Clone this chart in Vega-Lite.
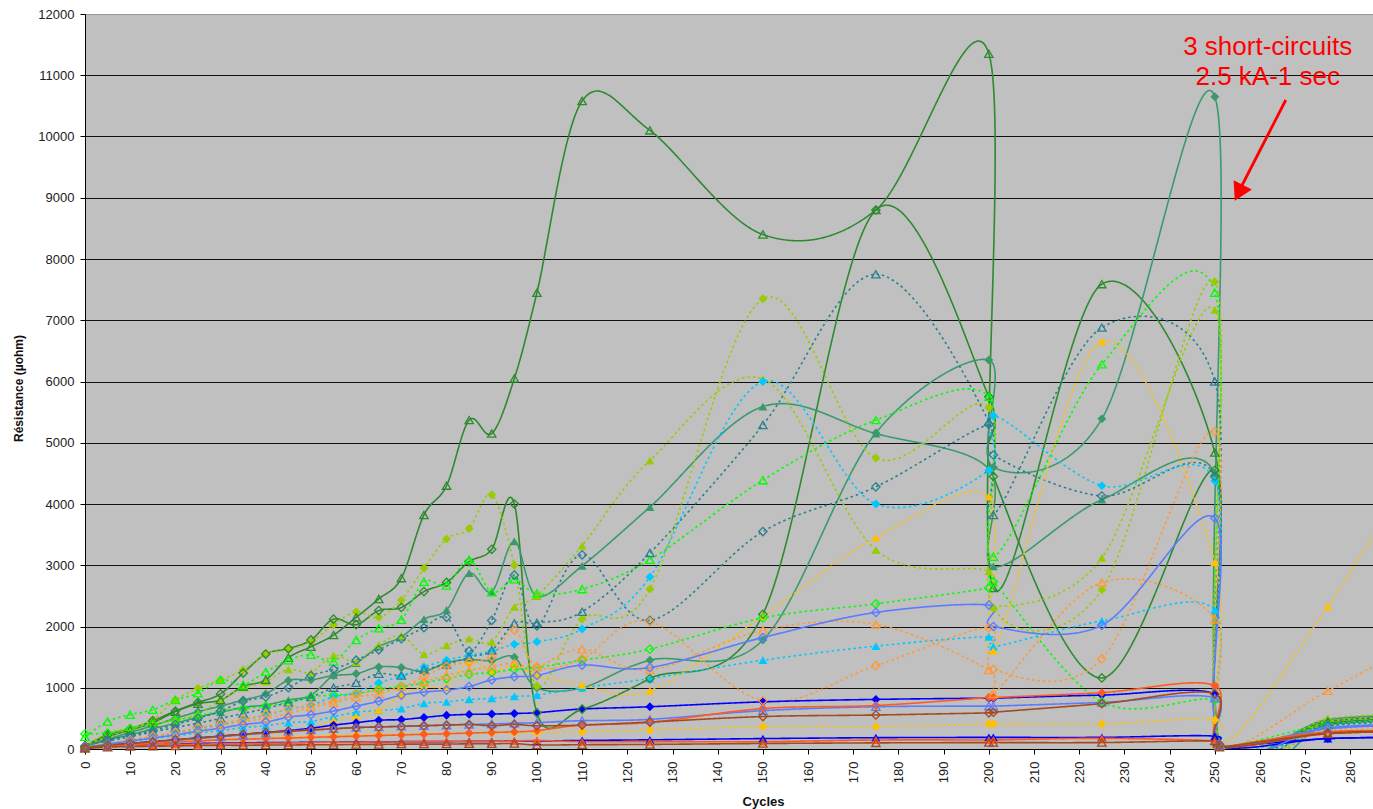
{
  "$schema": "https://vega.github.io/schema/vega-lite/v6.json",
  "width": 1288,
  "height": 735,
  "autosize": {"type": "none"},
  "padding": {"left": 85, "top": 14, "right": 0, "bottom": 60},
  "background": "white",
  "config": {
    "font": "Liberation Sans",
    "view": {"fill": "#C0C0C0", "stroke": "#9a9a9a", "strokeWidth": 1}
  },
  "datasets": {
    "series": [
      {"s":"A","c":0,"r":50},{"s":"A","c":5,"r":200},{"s":"A","c":10,"r":310},{"s":"A","c":15,"r":430},{"s":"A","c":20,"r":610},{"s":"A","c":25,"r":740},{"s":"A","c":30,"r":800},{"s":"A","c":35,"r":1020},{"s":"A","c":40,"r":1130},{"s":"A","c":45,"r":1490},{"s":"A","c":50,"r":1670},{"s":"A","c":55,"r":1860},{"s":"A","c":60,"r":2150},{"s":"A","c":65,"r":2450},{"s":"A","c":70,"r":2790},{"s":"A","c":75,"r":3820},{"s":"A","c":80,"r":4300},{"s":"A","c":85,"r":5370},{"s":"A","c":90,"r":5150},{"s":"A","c":95,"r":6050},{"s":"A","c":100,"r":7450},{"s":"A","c":110,"r":10580},{"s":"A","c":125,"r":10100},{"s":"A","c":150,"r":8400},{"s":"A","c":175,"r":8800},{"s":"A","c":200,"r":11350},{"s":"A","c":201,"r":2630},{"s":"A","c":225,"r":7590},{"s":"A","c":250,"r":4840},{"s":"A","c":251,"r":100},{"s":"A","c":275,"r":450},{"s":"A","c":300,"r":550},
      {"s":"B","c":0,"r":50},{"s":"B","c":5,"r":230},{"s":"B","c":10,"r":330},{"s":"B","c":15,"r":460},{"s":"B","c":20,"r":620},{"s":"B","c":25,"r":760},{"s":"B","c":30,"r":900},{"s":"B","c":35,"r":1240},{"s":"B","c":40,"r":1550},{"s":"B","c":45,"r":1640},{"s":"B","c":50,"r":1780},{"s":"B","c":55,"r":2120},{"s":"B","c":60,"r":2030},{"s":"B","c":65,"r":2260},{"s":"B","c":70,"r":2310},{"s":"B","c":75,"r":2570},{"s":"B","c":80,"r":2720},{"s":"B","c":85,"r":3060},{"s":"B","c":90,"r":3260},{"s":"B","c":95,"r":4000},{"s":"B","c":100,"r":590},{"s":"B","c":110,"r":650},{"s":"B","c":125,"r":1150},{"s":"B","c":150,"r":2200},{"s":"B","c":175,"r":8800},{"s":"B","c":200,"r":5750},{"s":"B","c":201,"r":4450},{"s":"B","c":225,"r":1160},{"s":"B","c":250,"r":4550},{"s":"B","c":251,"r":80},{"s":"B","c":275,"r":420},{"s":"B","c":300,"r":520},
      {"s":"C","c":0,"r":40},{"s":"C","c":5,"r":150},{"s":"C","c":10,"r":230},{"s":"C","c":15,"r":330},{"s":"C","c":20,"r":420},{"s":"C","c":25,"r":520},{"s":"C","c":30,"r":600},{"s":"C","c":35,"r":680},{"s":"C","c":40,"r":720},{"s":"C","c":45,"r":800},{"s":"C","c":50,"r":880},{"s":"C","c":55,"r":1210},{"s":"C","c":60,"r":1400},{"s":"C","c":65,"r":1670},{"s":"C","c":70,"r":1830},{"s":"C","c":75,"r":2120},{"s":"C","c":80,"r":2270},{"s":"C","c":85,"r":2870},{"s":"C","c":90,"r":2570},{"s":"C","c":95,"r":3390},{"s":"C","c":100,"r":2500},{"s":"C","c":110,"r":2990},{"s":"C","c":125,"r":3950},{"s":"C","c":150,"r":5590},{"s":"C","c":175,"r":5150},{"s":"C","c":200,"r":4570},{"s":"C","c":201,"r":2980},{"s":"C","c":225,"r":4070},{"s":"C","c":250,"r":4500},{"s":"C","c":251,"r":70},{"s":"C","c":275,"r":480},{"s":"C","c":300,"r":560},
      {"s":"D","c":0,"r":40},{"s":"D","c":5,"r":160},{"s":"D","c":10,"r":270},{"s":"D","c":15,"r":380},{"s":"D","c":20,"r":500},{"s":"D","c":25,"r":610},{"s":"D","c":30,"r":700},{"s":"D","c":35,"r":800},{"s":"D","c":40,"r":900},{"s":"D","c":45,"r":1120},{"s":"D","c":50,"r":1130},{"s":"D","c":55,"r":1200},{"s":"D","c":60,"r":1230},{"s":"D","c":65,"r":1340},{"s":"D","c":70,"r":1330},{"s":"D","c":75,"r":1270},{"s":"D","c":80,"r":1410},{"s":"D","c":85,"r":1460},{"s":"D","c":90,"r":1440},{"s":"D","c":95,"r":1500},{"s":"D","c":100,"r":1000},{"s":"D","c":110,"r":1000},{"s":"D","c":125,"r":1450},{"s":"D","c":150,"r":1780},{"s":"D","c":175,"r":5160},{"s":"D","c":200,"r":6350},{"s":"D","c":201,"r":4600},{"s":"D","c":225,"r":5390},{"s":"D","c":250,"r":10650},{"s":"D","c":251,"r":80},{"s":"D","c":275,"r":400},{"s":"D","c":300,"r":500},
      {"s":"E","c":0,"r":200},{"s":"E","c":5,"r":450},{"s":"E","c":10,"r":560},{"s":"E","c":15,"r":640},{"s":"E","c":20,"r":800},{"s":"E","c":25,"r":910},{"s":"E","c":30,"r":1130},{"s":"E","c":35,"r":1050},{"s":"E","c":40,"r":1260},{"s":"E","c":45,"r":1450},{"s":"E","c":50,"r":1540},{"s":"E","c":55,"r":1430},{"s":"E","c":60,"r":1780},{"s":"E","c":65,"r":1970},{"s":"E","c":70,"r":2110},{"s":"E","c":75,"r":2730},{"s":"E","c":80,"r":2670},{"s":"E","c":85,"r":3090},{"s":"E","c":90,"r":2560},{"s":"E","c":95,"r":2770},{"s":"E","c":100,"r":2540},{"s":"E","c":110,"r":2610},{"s":"E","c":125,"r":3090},{"s":"E","c":150,"r":4390},{"s":"E","c":175,"r":5370},{"s":"E","c":200,"r":5750},{"s":"E","c":201,"r":3140},{"s":"E","c":225,"r":6280},{"s":"E","c":250,"r":7450},{"s":"E","c":251,"r":50},{"s":"E","c":275,"r":380},{"s":"E","c":300,"r":480},
      {"s":"F","c":0,"r":245},{"s":"F","c":5,"r":260},{"s":"F","c":10,"r":330},{"s":"F","c":15,"r":400},{"s":"F","c":20,"r":470},{"s":"F","c":25,"r":540},{"s":"F","c":30,"r":620},{"s":"F","c":35,"r":660},{"s":"F","c":40,"r":700},{"s":"F","c":45,"r":760},{"s":"F","c":50,"r":850},{"s":"F","c":55,"r":880},{"s":"F","c":60,"r":900},{"s":"F","c":65,"r":980},{"s":"F","c":70,"r":1020},{"s":"F","c":75,"r":1080},{"s":"F","c":80,"r":1150},{"s":"F","c":85,"r":1220},{"s":"F","c":90,"r":1250},{"s":"F","c":95,"r":1300},{"s":"F","c":100,"r":1330},{"s":"F","c":110,"r":1450},{"s":"F","c":125,"r":1630},{"s":"F","c":150,"r":2140},{"s":"F","c":175,"r":2370},{"s":"F","c":200,"r":2630},{"s":"F","c":201,"r":2730},{"s":"F","c":225,"r":770},{"s":"F","c":250,"r":800},{"s":"F","c":251,"r":60},{"s":"F","c":275,"r":400},{"s":"F","c":300,"r":500},
      {"s":"G","c":0,"r":50},{"s":"G","c":5,"r":200},{"s":"G","c":10,"r":330},{"s":"G","c":15,"r":480},{"s":"G","c":20,"r":800},{"s":"G","c":25,"r":990},{"s":"G","c":30,"r":1130},{"s":"G","c":35,"r":1290},{"s":"G","c":40,"r":1550},{"s":"G","c":45,"r":1620},{"s":"G","c":50,"r":1750},{"s":"G","c":55,"r":2030},{"s":"G","c":60,"r":2240},{"s":"G","c":65,"r":2150},{"s":"G","c":70,"r":2430},{"s":"G","c":75,"r":2950},{"s":"G","c":80,"r":3430},{"s":"G","c":85,"r":3600},{"s":"G","c":90,"r":4150},{"s":"G","c":95,"r":3000},{"s":"G","c":100,"r":1030},{"s":"G","c":110,"r":2120},{"s":"G","c":125,"r":2610},{"s":"G","c":150,"r":7350},{"s":"G","c":175,"r":4750},{"s":"G","c":200,"r":5570},{"s":"G","c":201,"r":2300},{"s":"G","c":225,"r":2600},{"s":"G","c":250,"r":7630},{"s":"G","c":251,"r":60},{"s":"G","c":275,"r":450},{"s":"G","c":300,"r":520},
      {"s":"H","c":0,"r":40},{"s":"H","c":5,"r":260},{"s":"H","c":10,"r":340},{"s":"H","c":15,"r":420},{"s":"H","c":20,"r":470},{"s":"H","c":25,"r":580},{"s":"H","c":30,"r":800},{"s":"H","c":35,"r":1000},{"s":"H","c":40,"r":1100},{"s":"H","c":45,"r":1300},{"s":"H","c":50,"r":1250},{"s":"H","c":55,"r":1530},{"s":"H","c":60,"r":1420},{"s":"H","c":65,"r":1700},{"s":"H","c":70,"r":1850},{"s":"H","c":75,"r":1550},{"s":"H","c":80,"r":1690},{"s":"H","c":85,"r":1800},{"s":"H","c":90,"r":1750},{"s":"H","c":95,"r":2320},{"s":"H","c":100,"r":2500},{"s":"H","c":110,"r":3320},{"s":"H","c":125,"r":4710},{"s":"H","c":150,"r":6040},{"s":"H","c":175,"r":3250},{"s":"H","c":200,"r":2900},{"s":"H","c":201,"r":2320},{"s":"H","c":225,"r":3120},{"s":"H","c":250,"r":7170},{"s":"H","c":251,"r":60},{"s":"H","c":275,"r":500},{"s":"H","c":300,"r":560},
      {"s":"I","c":0,"r":50},{"s":"I","c":5,"r":150},{"s":"I","c":10,"r":220},{"s":"I","c":15,"r":300},{"s":"I","c":20,"r":400},{"s":"I","c":25,"r":500},{"s":"I","c":30,"r":620},{"s":"I","c":35,"r":780},{"s":"I","c":40,"r":850},{"s":"I","c":45,"r":1000},{"s":"I","c":50,"r":1200},{"s":"I","c":55,"r":1300},{"s":"I","c":60,"r":1450},{"s":"I","c":65,"r":1620},{"s":"I","c":70,"r":1800},{"s":"I","c":75,"r":1980},{"s":"I","c":80,"r":2150},{"s":"I","c":85,"r":1600},{"s":"I","c":90,"r":2100},{"s":"I","c":95,"r":2840},{"s":"I","c":100,"r":2010},{"s":"I","c":110,"r":3170},{"s":"I","c":125,"r":2100},{"s":"I","c":150,"r":3550},{"s":"I","c":175,"r":4280},{"s":"I","c":200,"r":5300},{"s":"I","c":201,"r":4800},{"s":"I","c":225,"r":4130},{"s":"I","c":250,"r":4450},{"s":"I","c":251,"r":60},{"s":"I","c":275,"r":380},{"s":"I","c":300,"r":460},
      {"s":"J","c":0,"r":50},{"s":"J","c":5,"r":130},{"s":"J","c":10,"r":200},{"s":"J","c":15,"r":280},{"s":"J","c":20,"r":350},{"s":"J","c":25,"r":420},{"s":"J","c":30,"r":500},{"s":"J","c":35,"r":580},{"s":"J","c":40,"r":660},{"s":"J","c":45,"r":760},{"s":"J","c":50,"r":850},{"s":"J","c":55,"r":1000},{"s":"J","c":60,"r":1080},{"s":"J","c":65,"r":1230},{"s":"J","c":70,"r":1200},{"s":"J","c":75,"r":1300},{"s":"J","c":80,"r":1380},{"s":"J","c":85,"r":1500},{"s":"J","c":90,"r":1610},{"s":"J","c":95,"r":2050},{"s":"J","c":100,"r":2060},{"s":"J","c":110,"r":2240},{"s":"J","c":125,"r":3200},{"s":"J","c":150,"r":5290},{"s":"J","c":175,"r":7750},{"s":"J","c":200,"r":5340},{"s":"J","c":201,"r":3820},{"s":"J","c":225,"r":6880},{"s":"J","c":250,"r":6000},{"s":"J","c":251,"r":60},{"s":"J","c":275,"r":400},{"s":"J","c":300,"r":470},
      {"s":"K","c":0,"r":30},{"s":"K","c":5,"r":90},{"s":"K","c":10,"r":140},{"s":"K","c":15,"r":200},{"s":"K","c":20,"r":260},{"s":"K","c":25,"r":330},{"s":"K","c":30,"r":400},{"s":"K","c":35,"r":480},{"s":"K","c":40,"r":550},{"s":"K","c":45,"r":650},{"s":"K","c":50,"r":720},{"s":"K","c":55,"r":850},{"s":"K","c":60,"r":920},{"s":"K","c":65,"r":1080},{"s":"K","c":70,"r":1190},{"s":"K","c":75,"r":1340},{"s":"K","c":80,"r":1450},{"s":"K","c":85,"r":1530},{"s":"K","c":90,"r":1600},{"s":"K","c":95,"r":1710},{"s":"K","c":100,"r":1750},{"s":"K","c":110,"r":1960},{"s":"K","c":125,"r":2810},{"s":"K","c":150,"r":6000},{"s":"K","c":175,"r":4000},{"s":"K","c":200,"r":4550},{"s":"K","c":201,"r":5440},{"s":"K","c":225,"r":4300},{"s":"K","c":250,"r":4380},{"s":"K","c":251,"r":50},{"s":"K","c":275,"r":330},{"s":"K","c":300,"r":420},
      {"s":"L","c":0,"r":30},{"s":"L","c":5,"r":80},{"s":"L","c":10,"r":120},{"s":"L","c":15,"r":170},{"s":"L","c":20,"r":210},{"s":"L","c":25,"r":260},{"s":"L","c":30,"r":300},{"s":"L","c":35,"r":350},{"s":"L","c":40,"r":380},{"s":"L","c":45,"r":430},{"s":"L","c":50,"r":450},{"s":"L","c":55,"r":530},{"s":"L","c":60,"r":600},{"s":"L","c":65,"r":630},{"s":"L","c":70,"r":660},{"s":"L","c":75,"r":745},{"s":"L","c":80,"r":770},{"s":"L","c":85,"r":810},{"s":"L","c":90,"r":825},{"s":"L","c":95,"r":860},{"s":"L","c":100,"r":880},{"s":"L","c":110,"r":1000},{"s":"L","c":125,"r":1150},{"s":"L","c":150,"r":1450},{"s":"L","c":175,"r":1680},{"s":"L","c":200,"r":1830},{"s":"L","c":201,"r":1670},{"s":"L","c":225,"r":2090},{"s":"L","c":250,"r":2270},{"s":"L","c":251,"r":50},{"s":"L","c":275,"r":350},{"s":"L","c":300,"r":420},
      {"s":"M","c":0,"r":30},{"s":"M","c":5,"r":80},{"s":"M","c":10,"r":150},{"s":"M","c":15,"r":210},{"s":"M","c":20,"r":270},{"s":"M","c":25,"r":350},{"s":"M","c":30,"r":420},{"s":"M","c":35,"r":480},{"s":"M","c":40,"r":560},{"s":"M","c":45,"r":650},{"s":"M","c":50,"r":720},{"s":"M","c":55,"r":780},{"s":"M","c":60,"r":900},{"s":"M","c":65,"r":950},{"s":"M","c":70,"r":1000},{"s":"M","c":75,"r":1180},{"s":"M","c":80,"r":1350},{"s":"M","c":85,"r":1420},{"s":"M","c":90,"r":1500},{"s":"M","c":95,"r":1940},{"s":"M","c":100,"r":1340},{"s":"M","c":110,"r":1470},{"s":"M","c":125,"r":2080},{"s":"M","c":150,"r":790},{"s":"M","c":175,"r":1360},{"s":"M","c":200,"r":1980},{"s":"M","c":201,"r":1300},{"s":"M","c":225,"r":1470},{"s":"M","c":250,"r":5180},{"s":"M","c":251,"r":50},{"s":"M","c":275,"r":300},{"s":"M","c":300,"r":380},
      {"s":"N","c":0,"r":30},{"s":"N","c":5,"r":70},{"s":"N","c":10,"r":130},{"s":"N","c":15,"r":190},{"s":"N","c":20,"r":240},{"s":"N","c":25,"r":310},{"s":"N","c":30,"r":380},{"s":"N","c":35,"r":440},{"s":"N","c":40,"r":500},{"s":"N","c":45,"r":580},{"s":"N","c":50,"r":680},{"s":"N","c":55,"r":750},{"s":"N","c":60,"r":850},{"s":"N","c":65,"r":900},{"s":"N","c":70,"r":1020},{"s":"N","c":75,"r":1100},{"s":"N","c":80,"r":1200},{"s":"N","c":85,"r":1280},{"s":"N","c":90,"r":1350},{"s":"N","c":95,"r":1400},{"s":"N","c":100,"r":1340},{"s":"N","c":110,"r":1630},{"s":"N","c":125,"r":1290},{"s":"N","c":150,"r":1940},{"s":"N","c":175,"r":2035},{"s":"N","c":200,"r":1290},{"s":"N","c":201,"r":900},{"s":"N","c":225,"r":2720},{"s":"N","c":250,"r":2120},{"s":"N","c":251,"r":50},{"s":"N","c":275,"r":950},{"s":"N","c":300,"r":1950},
      {"s":"O","c":0,"r":30},{"s":"O","c":5,"r":60},{"s":"O","c":10,"r":80},{"s":"O","c":15,"r":100},{"s":"O","c":20,"r":120},{"s":"O","c":25,"r":140},{"s":"O","c":30,"r":160},{"s":"O","c":35,"r":170},{"s":"O","c":40,"r":180},{"s":"O","c":45,"r":200},{"s":"O","c":50,"r":210},{"s":"O","c":55,"r":220},{"s":"O","c":60,"r":230},{"s":"O","c":65,"r":240},{"s":"O","c":70,"r":240},{"s":"O","c":75,"r":250},{"s":"O","c":80,"r":250},{"s":"O","c":85,"r":260},{"s":"O","c":90,"r":260},{"s":"O","c":95,"r":265},{"s":"O","c":100,"r":267},{"s":"O","c":110,"r":283},{"s":"O","c":125,"r":310},{"s":"O","c":150,"r":365},{"s":"O","c":175,"r":365},{"s":"O","c":200,"r":408},{"s":"O","c":201,"r":408},{"s":"O","c":225,"r":408},{"s":"O","c":250,"r":473},{"s":"O","c":251,"r":50},{"s":"O","c":275,"r":250},{"s":"O","c":300,"r":320},
      {"s":"P","c":0,"r":40},{"s":"P","c":5,"r":90},{"s":"P","c":10,"r":90},{"s":"P","c":15,"r":120},{"s":"P","c":20,"r":160},{"s":"P","c":25,"r":175},{"s":"P","c":30,"r":200},{"s":"P","c":35,"r":220},{"s":"P","c":40,"r":240},{"s":"P","c":45,"r":270},{"s":"P","c":50,"r":340},{"s":"P","c":55,"r":470},{"s":"P","c":60,"r":530},{"s":"P","c":65,"r":640},{"s":"P","c":70,"r":880},{"s":"P","c":75,"r":1020},{"s":"P","c":80,"r":1020},{"s":"P","c":85,"r":1430},{"s":"P","c":90,"r":1260},{"s":"P","c":95,"r":1370},{"s":"P","c":100,"r":1210},{"s":"P","c":110,"r":1045},{"s":"P","c":125,"r":950},{"s":"P","c":150,"r":2170},{"s":"P","c":175,"r":3450},{"s":"P","c":200,"r":4120},{"s":"P","c":201,"r":1600},{"s":"P","c":225,"r":6650},{"s":"P","c":250,"r":3050},{"s":"P","c":251,"r":110},{"s":"P","c":275,"r":2330},{"s":"P","c":300,"r":5300},
      {"s":"Q","c":0,"r":30},{"s":"Q","c":5,"r":60},{"s":"Q","c":10,"r":90},{"s":"Q","c":15,"r":120},{"s":"Q","c":20,"r":150},{"s":"Q","c":25,"r":180},{"s":"Q","c":30,"r":210},{"s":"Q","c":35,"r":240},{"s":"Q","c":40,"r":270},{"s":"Q","c":45,"r":300},{"s":"Q","c":50,"r":340},{"s":"Q","c":55,"r":390},{"s":"Q","c":60,"r":430},{"s":"Q","c":65,"r":470},{"s":"Q","c":70,"r":480},{"s":"Q","c":75,"r":515},{"s":"Q","c":80,"r":550},{"s":"Q","c":85,"r":565},{"s":"Q","c":90,"r":570},{"s":"Q","c":95,"r":580},{"s":"Q","c":100,"r":593},{"s":"Q","c":110,"r":653},{"s":"Q","c":125,"r":690},{"s":"Q","c":150,"r":770},{"s":"Q","c":175,"r":810},{"s":"Q","c":200,"r":830},{"s":"Q","c":201,"r":830},{"s":"Q","c":225,"r":880},{"s":"Q","c":250,"r":900},{"s":"Q","c":251,"r":50},{"s":"Q","c":275,"r":170},{"s":"Q","c":300,"r":200},
      {"s":"R","c":0,"r":20},{"s":"R","c":5,"r":40},{"s":"R","c":10,"r":60},{"s":"R","c":15,"r":70},{"s":"R","c":20,"r":80},{"s":"R","c":25,"r":90},{"s":"R","c":30,"r":95},{"s":"R","c":35,"r":100},{"s":"R","c":40,"r":105},{"s":"R","c":45,"r":105},{"s":"R","c":50,"r":110},{"s":"R","c":55,"r":110},{"s":"R","c":60,"r":115},{"s":"R","c":65,"r":115},{"s":"R","c":70,"r":120},{"s":"R","c":75,"r":120},{"s":"R","c":80,"r":120},{"s":"R","c":85,"r":125},{"s":"R","c":90,"r":125},{"s":"R","c":95,"r":130},{"s":"R","c":100,"r":130},{"s":"R","c":110,"r":140},{"s":"R","c":125,"r":150},{"s":"R","c":150,"r":170},{"s":"R","c":175,"r":185},{"s":"R","c":200,"r":190},{"s":"R","c":201,"r":190},{"s":"R","c":225,"r":190},{"s":"R","c":250,"r":210},{"s":"R","c":251,"r":40},{"s":"R","c":275,"r":170},{"s":"R","c":300,"r":190},
      {"s":"S","c":0,"r":30},{"s":"S","c":5,"r":80},{"s":"S","c":10,"r":130},{"s":"S","c":15,"r":180},{"s":"S","c":20,"r":230},{"s":"S","c":25,"r":290},{"s":"S","c":30,"r":340},{"s":"S","c":35,"r":400},{"s":"S","c":40,"r":440},{"s":"S","c":45,"r":520},{"s":"S","c":50,"r":560},{"s":"S","c":55,"r":620},{"s":"S","c":60,"r":700},{"s":"S","c":65,"r":780},{"s":"S","c":70,"r":880},{"s":"S","c":75,"r":930},{"s":"S","c":80,"r":960},{"s":"S","c":85,"r":1020},{"s":"S","c":90,"r":1130},{"s":"S","c":95,"r":1180},{"s":"S","c":100,"r":1200},{"s":"S","c":110,"r":1370},{"s":"S","c":125,"r":1330},{"s":"S","c":150,"r":1820},{"s":"S","c":175,"r":2230},{"s":"S","c":200,"r":2350},{"s":"S","c":201,"r":2000},{"s":"S","c":225,"r":2020},{"s":"S","c":250,"r":3770},{"s":"S","c":251,"r":80},{"s":"S","c":275,"r":350},{"s":"S","c":300,"r":420},
      {"s":"T","c":0,"r":20},{"s":"T","c":5,"r":50},{"s":"T","c":10,"r":80},{"s":"T","c":15,"r":110},{"s":"T","c":20,"r":140},{"s":"T","c":25,"r":170},{"s":"T","c":30,"r":200},{"s":"T","c":35,"r":230},{"s":"T","c":40,"r":260},{"s":"T","c":45,"r":290},{"s":"T","c":50,"r":310},{"s":"T","c":55,"r":330},{"s":"T","c":60,"r":350},{"s":"T","c":65,"r":360},{"s":"T","c":70,"r":370},{"s":"T","c":75,"r":380},{"s":"T","c":80,"r":390},{"s":"T","c":85,"r":400},{"s":"T","c":90,"r":410},{"s":"T","c":95,"r":420},{"s":"T","c":100,"r":430},{"s":"T","c":110,"r":463},{"s":"T","c":125,"r":484},{"s":"T","c":150,"r":626},{"s":"T","c":175,"r":690},{"s":"T","c":200,"r":700},{"s":"T","c":201,"r":700},{"s":"T","c":225,"r":760},{"s":"T","c":250,"r":830},{"s":"T","c":251,"r":50},{"s":"T","c":275,"r":330},{"s":"T","c":300,"r":400},
      {"s":"U","c":0,"r":20},{"s":"U","c":5,"r":50},{"s":"U","c":10,"r":70},{"s":"U","c":15,"r":90},{"s":"U","c":20,"r":110},{"s":"U","c":25,"r":130},{"s":"U","c":30,"r":150},{"s":"U","c":35,"r":160},{"s":"U","c":40,"r":170},{"s":"U","c":45,"r":180},{"s":"U","c":50,"r":190},{"s":"U","c":55,"r":200},{"s":"U","c":60,"r":210},{"s":"U","c":65,"r":220},{"s":"U","c":70,"r":230},{"s":"U","c":75,"r":240},{"s":"U","c":80,"r":250},{"s":"U","c":85,"r":260},{"s":"U","c":90,"r":270},{"s":"U","c":95,"r":280},{"s":"U","c":100,"r":300},{"s":"U","c":110,"r":390},{"s":"U","c":125,"r":435},{"s":"U","c":150,"r":660},{"s":"U","c":175,"r":710},{"s":"U","c":200,"r":840},{"s":"U","c":201,"r":840},{"s":"U","c":225,"r":920},{"s":"U","c":250,"r":1035},{"s":"U","c":251,"r":80},{"s":"U","c":275,"r":250},{"s":"U","c":300,"r":300},
      {"s":"V","c":0,"r":20},{"s":"V","c":5,"r":40},{"s":"V","c":10,"r":55},{"s":"V","c":15,"r":65},{"s":"V","c":20,"r":75},{"s":"V","c":25,"r":80},{"s":"V","c":30,"r":85},{"s":"V","c":35,"r":90},{"s":"V","c":40,"r":95},{"s":"V","c":45,"r":100},{"s":"V","c":50,"r":105},{"s":"V","c":55,"r":110},{"s":"V","c":60,"r":110},{"s":"V","c":65,"r":115},{"s":"V","c":70,"r":115},{"s":"V","c":75,"r":120},{"s":"V","c":80,"r":120},{"s":"V","c":85,"r":125},{"s":"V","c":90,"r":125},{"s":"V","c":95,"r":130},{"s":"V","c":100,"r":140},{"s":"V","c":110,"r":120},{"s":"V","c":125,"r":120},{"s":"V","c":150,"r":120},{"s":"V","c":175,"r":147},{"s":"V","c":200,"r":147},{"s":"V","c":201,"r":147},{"s":"V","c":225,"r":174},{"s":"V","c":250,"r":130},{"s":"V","c":251,"r":30},{"s":"V","c":275,"r":280},{"s":"V","c":300,"r":290},
      {"s":"W","c":0,"r":20},{"s":"W","c":5,"r":60},{"s":"W","c":10,"r":90},{"s":"W","c":15,"r":120},{"s":"W","c":20,"r":150},{"s":"W","c":25,"r":180},{"s":"W","c":30,"r":210},{"s":"W","c":35,"r":240},{"s":"W","c":40,"r":270},{"s":"W","c":45,"r":290},{"s":"W","c":50,"r":310},{"s":"W","c":55,"r":330},{"s":"W","c":60,"r":350},{"s":"W","c":65,"r":360},{"s":"W","c":70,"r":370},{"s":"W","c":75,"r":380},{"s":"W","c":80,"r":390},{"s":"W","c":85,"r":400},{"s":"W","c":90,"r":380},{"s":"W","c":95,"r":400},{"s":"W","c":100,"r":380},{"s":"W","c":110,"r":390},{"s":"W","c":125,"r":440},{"s":"W","c":150,"r":530},{"s":"W","c":175,"r":555},{"s":"W","c":200,"r":590},{"s":"W","c":201,"r":600},{"s":"W","c":225,"r":740},{"s":"W","c":250,"r":900},{"s":"W","c":251,"r":60},{"s":"W","c":275,"r":260},{"s":"W","c":300,"r":300},
      {"s":"X","c":0,"r":10},{"s":"X","c":5,"r":30},{"s":"X","c":10,"r":40},{"s":"X","c":15,"r":45},{"s":"X","c":20,"r":50},{"s":"X","c":25,"r":55},{"s":"X","c":30,"r":60},{"s":"X","c":35,"r":60},{"s":"X","c":40,"r":65},{"s":"X","c":45,"r":65},{"s":"X","c":50,"r":70},{"s":"X","c":55,"r":70},{"s":"X","c":60,"r":75},{"s":"X","c":65,"r":75},{"s":"X","c":70,"r":80},{"s":"X","c":75,"r":80},{"s":"X","c":80,"r":80},{"s":"X","c":85,"r":85},{"s":"X","c":90,"r":85},{"s":"X","c":95,"r":90},{"s":"X","c":100,"r":65},{"s":"X","c":110,"r":70},{"s":"X","c":125,"r":75},{"s":"X","c":150,"r":90},{"s":"X","c":175,"r":100},{"s":"X","c":200,"r":105},{"s":"X","c":201,"r":105},{"s":"X","c":225,"r":105},{"s":"X","c":250,"r":130},{"s":"X","c":251,"r":30},{"s":"X","c":275,"r":250},{"s":"X","c":300,"r":280}
    ]
  },
  "layer": [
    {
      "data": {"name": "series"},
      "mark": {"type": "line", "interpolate": "cardinal", "clip": true, "strokeWidth": 1.6},
      "encoding": {
        "x": {
          "field": "c", "type": "quantitative", "title": "Cycles",
          "scale": {"domain": [0, 285], "nice": false, "zero": false},
          "axis": {
            "values": [0,10,20,30,40,50,60,70,80,90,100,110,120,130,140,150,160,170,180,190,200,210,220,230,240,250,260,270,280],
            "labelAngle": 270, "labelFontSize": 13, "labelColor": "#222222", "labelPadding": 7,
            "tickSize": 5, "tickColor": "#000000", "domainColor": "#000000", "grid": false,
            "titleFontSize": 13, "titleFontWeight": "bold", "titleColor": "#111111",
            "titleX": 678, "titleY": 56, "titleBaseline": "alphabetic", "titleAnchor": "middle"
          }
        },
        "y": {
          "field": "r", "type": "quantitative", "title": "Résistance (µohm)",
          "scale": {"domain": [0, 12000], "nice": false},
          "axis": {
            "values": [0,1000,2000,3000,4000,5000,6000,7000,8000,9000,10000,11000,12000],
            "format": "d", "labelFontSize": 13, "labelColor": "#222222", "labelPadding": 6,
            "tickSize": 5, "tickColor": "#000000", "domainColor": "#000000",
            "grid": true, "gridWidth": 1.2,
            "gridColor": {"condition": {"test": "datum.value === 12000", "value": "#9a9a9a"}, "value": "#111111"},
            "titleFontSize": 12, "titleFontWeight": "bold", "titleColor": "#111111",
            "titleX": -67, "titleY": 374, "titleAngle": 270, "titleBaseline": "middle", "titleAlign": "center"
          }
        },
        "color": {
          "field": "s", "type": "nominal", "legend": null,
          "scale": {
            "domain": ["A","B","C","D","E","F","G","H","I","J","K","L","M","N","O","P","Q","R","S","T","U","V","W","X"],
            "range": ["#2D8A2D","#2D8A2D","#3A9A6C","#3A9A6C","#00FF00","#00FF00","#99CC00","#99CC00","#2A8090","#2A8090","#00C8FF","#00C8FF","#FF9933","#FF9933","#FFC000","#FFC000","#0000FF","#0000FF","#5B7CFF","#5B7CFF","#FF5A1F","#FF5A1F","#A34A22","#A34A22"]
          }
        },
        "strokeDash": {
          "field": "s", "type": "nominal", "legend": null,
          "scale": {
            "domain": ["A","B","C","D","E","F","G","H","I","J","K","L","M","N","O","P","Q","R","S","T","U","V","W","X"],
            "range": [[1,0],[1,0],[1,0],[1,0],[2.5,3],[2.5,3],[2.5,3],[2.5,3],[2.5,3],[2.5,3],[2.5,3],[2.5,3],[2.5,3],[2.5,3],[2.5,3],[2.5,3],[1,0],[1,0],[1,0],[1,0],[1,0],[1,0],[1,0],[1,0]]
          }
        }
      }
    },
    {
      "data": {"name": "series"},
      "transform": [{"filter": "datum.c <= 285 && indexof(['C','D','G','H','K','L','O','P','Q','R','U','V'], datum.s) >= 0"}],
      "mark": {"type": "point", "filled": true, "size": 80, "opacity": 1},
      "encoding": {
        "x": {"field": "c", "type": "quantitative", "title": "Cycles"},
        "y": {"field": "r", "type": "quantitative", "title": "Résistance (µohm)"},
        "color": {"field": "s", "type": "nominal", "legend": null},
        "shape": {
          "field": "s", "type": "nominal", "legend": null,
          "scale": {
            "domain": ["A","B","C","D","E","F","G","H","I","J","K","L","M","N","O","P","Q","R","S","T","U","V","W","X"],
            "range": ["triangle-up","diamond","triangle-up","diamond","triangle-up","diamond","diamond","triangle-up","diamond","triangle-up","diamond","triangle-up","diamond","triangle-up","diamond","triangle-up","diamond","triangle-up","diamond","triangle-up","diamond","triangle-up","diamond","triangle-up"]
          }
        }
      }
    },
    {
      "data": {"name": "series"},
      "transform": [{"filter": "datum.c <= 285 && indexof(['A','B','E','F','I','J','M','N','S','T','W','X'], datum.s) >= 0"}],
      "mark": {"type": "point", "filled": false, "size": 70, "strokeWidth": 1.3, "opacity": 1},
      "encoding": {
        "x": {"field": "c", "type": "quantitative", "title": "Cycles"},
        "y": {"field": "r", "type": "quantitative", "title": "Résistance (µohm)"},
        "color": {"field": "s", "type": "nominal", "legend": null},
        "shape": {"field": "s", "type": "nominal", "legend": null}
      }
    },
    {
      "data": {"values": [{}]},
      "mark": {"type": "text", "font": "Liberation Sans", "fontSize": 26, "color": "#FF0000", "align": "center", "baseline": "alphabetic", "lineHeight": 30},
      "encoding": {
        "x": {"datum": 261.7, "type": "quantitative"},
        "y": {"datum": 11330, "type": "quantitative"},
        "text": {"value": ["3 short-circuits", "2.5 kA-1 sec"]}
      }
    },
    {
      "data": {"values": [{}]},
      "mark": {"type": "rule", "color": "#FF0000", "strokeWidth": 2.8},
      "encoding": {
        "x": {"datum": 265.7, "type": "quantitative"},
        "y": {"datum": 10596, "type": "quantitative"},
        "x2": {"datum": 256.0},
        "y2": {"datum": 9200}
      }
    },
    {
      "data": {"values": [{}]},
      "mark": {"type": "point", "shape": "triangle-up", "filled": true, "color": "#FF0000", "size": 420, "angle": 206.6, "opacity": 1},
      "encoding": {
        "x": {"datum": 255.3, "type": "quantitative"},
        "y": {"datum": 9080, "type": "quantitative"}
      }
    }
  ]
}
